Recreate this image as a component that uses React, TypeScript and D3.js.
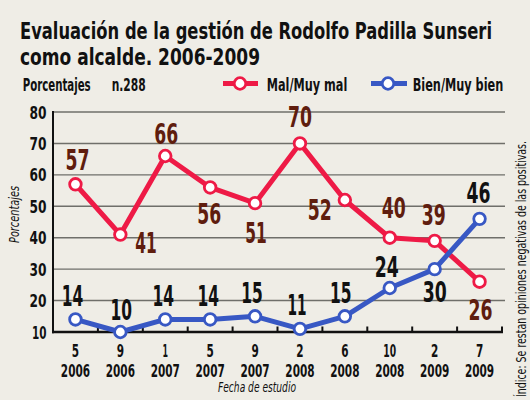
import React, { useEffect } from "react";
import * as d3 from "d3";

// ---- data ----
const months = ["5", "9", "1", "5", "9", "2", "6", "10", "2", "7"];
const years = ["2006", "2006", "2007", "2007", "2007", "2008", "2008", "2008", "2009", "2009"];
const malValues = [57, 41, 66, 56, 51, 70, 52, 40, 39, 26];
const bienValues = [14, 10, 14, 14, 15, 11, 15, 24, 30, 46];
const yTicks = [10, 20, 30, 40, 50, 60, 70, 80];

const titleLines = [
  "Evaluación de la gestión de Rodolfo Padilla Sunseri",
  "como alcalde. 2006-2009",
];
const seriesNames = ["Mal/Muy mal", "Bien/Muy bien"];

// ---- label layout (offsets from each point, anchor) ----
const malLabelLayout: [number, number, string][] = [
  [2, -14, "middle"], [15, 18, "start"], [1, -12, "middle"], [-1, 37, "middle"], [1, 40, "middle"],
  [0, -16, "middle"], [-13, 20, "end"], [4, -20, "middle"], [-1, -16, "middle"], [1, 38, "middle"],
];
const bienLabelLayout: [number, number, string][] = [
  [-3, -13, "middle"], [1, -12, "middle"], [-2, -13, "middle"], [-2, -13, "middle"], [-3, -13, "middle"],
  [-3, -14, "middle"], [-4, -13, "middle"], [-3, -11, "middle"], [0, 33, "middle"], [-1, -16, "middle"],
];

const BG = "#efede6";
const RED = "#ee1a46";
const BLUE = "#3858c4";
const BROWN = "#5f1d0e";
const FONT = "'Liberation Sans Narrow', 'DejaVu Sans Condensed', 'Liberation Sans', Arial, sans-serif";

const numWidth = (s: string, one: number, other: number) =>
  s.split("").reduce((a, c) => a + (c === "1" ? one : other), 0);

function T(props: {
  x: number; y: number; text: string; len?: number; size: number; weight?: any;
  anchor?: string; fill?: string; italic?: boolean; rotate?: number;
}) {
  const { x, y, text, len, size, weight = "bold", anchor = "start", fill = "#111", italic, rotate } = props;
  return (
    <text
      x={rotate ? 0 : x}
      y={rotate ? 0 : y}
      transform={rotate ? `translate(${x},${y}) rotate(${rotate})` : undefined}
      textAnchor={anchor as any}
      fontFamily={FONT}
      fontSize={size}
      fontWeight={weight}
      fontStyle={italic ? "italic" : "normal"}
      fill={fill}
      textLength={len}
      lengthAdjust={len ? "spacingAndGlyphs" : undefined}
    >
      {text}
    </text>
  );
}

export default function App() {
  useEffect(() => {
    document.body.style.margin = "0";
    document.body.style.background = BG;
  }, []);

  const x = d3.scaleBand<number>().domain(d3.range(months.length)).range([53, 502]);
  const bw = x.bandwidth();
  const cx = (i: number) => (x(i) as number) + bw / 2;
  const y = d3.scaleLinear().domain([10, 80]).range([332, 112]);
  const line = d3.line<number>().x((_, i) => cx(i)).y((d) => y(d));

  const series = [
    { values: malValues, color: RED, labelColor: BROWN, layout: malLabelLayout },
    { values: bienValues, color: BLUE, labelColor: "#111", layout: bienLabelLayout },
  ];

  return (
    <svg width={530} height={400} style={{ position: "absolute", left: 0, top: 0, display: "block" }}>
      <rect width={530} height={400} fill={BG} />

      {/* title */}
      <T x={20} y={38.5} text={titleLines[0]} len={472} size={23} />
      <T x={20} y={65} text={titleLines[1]} len={240} size={23} />

      {/* subtitle + legend */}
      <T x={22.7} y={90.7} text="Porcentajes" len={68} size={17} />
      <T x={111.7} y={90.7} text="n.288" len={34} size={17} />

      <line x1={223} x2={258} y1={83.5} y2={83.5} stroke={RED} strokeWidth={5} />
      <circle cx={240} cy={83.5} r={5.8} fill="#fff" stroke={RED} strokeWidth={2.8} />
      <T x={266.7} y={90.7} text={seriesNames[0]} len={80.6} size={17} />

      <line x1={371} x2={407} y1={83.5} y2={83.5} stroke={BLUE} strokeWidth={5} />
      <circle cx={388} cy={83.5} r={5.8} fill="#fff" stroke={BLUE} strokeWidth={2.8} />
      <T x={412.7} y={90.7} text={seriesNames[1]} len={90.6} size={17} />

      {/* gridlines */}
      {yTicks.filter((t) => t > 10).map((t) => (
        <line key={t} x1={53} x2={505} y1={y(t)} y2={y(t)} stroke="#6f6f6a" strokeWidth={1.4} />
      ))}

      {/* y tick labels */}
      {yTicks.map((t) => (
        <T key={t} x={46.5} y={y(t) + 6.5} text={String(t)} len={numWidth(String(t), 6, 8.5)} size={18} anchor="end" />
      ))}

      {/* axes */}
      <line x1={53} x2={53} y1={y(80) - 1} y2={y(10) + 1.2} stroke="#111" strokeWidth={2} />
      <line x1={52} x2={503} y1={y(10)} y2={y(10)} stroke="#111" strokeWidth={2.6} />
      {months.map((_, i) => (
        <line key={i} x1={(x(i) as number) + bw} x2={(x(i) as number) + bw} y1={y(10)} y2={y(10) - 5.5}
          stroke="#111" strokeWidth={2} />
      ))}

      {/* x labels */}
      {months.map((m, i) => (
        <g key={i}>
          <T x={cx(i)} y={356.5} text={m} len={numWidth(m, 5.5, 7.3)} size={18} anchor="middle" />
          <T x={cx(i)} y={377} text={years[i]} len={numWidth(years[i], 5.5, 7.3)} size={18} anchor="middle" />
        </g>
      ))}
      <T x={257} y={391.7} text="Fecha de estudio" len={78} size={14} weight="normal" italic anchor="middle" />

      {/* y axis title */}
      <T x={19} y={214.5} text="Porcentajes" len={57} size={13.5} weight="normal" italic anchor="middle" rotate={-90} />

      {/* right note */}
      <T x={526} y={269} text="Índice: Se restan opiniones negativas de las positivas." len={256} size={13.5}
        weight="normal" anchor="middle" rotate={-90} />

      {/* lines and points */}
      {series.map((s, si) => (
        <g key={si}>
          <path d={line(s.values) || ""} fill="none" stroke={s.color} strokeWidth={5} strokeLinejoin="round" />
          {s.values.map((v, i) => (
            <circle key={i} cx={cx(i)} cy={y(v)} r={5.8} fill="#fff" stroke={s.color} strokeWidth={2.8} />
          ))}
        </g>
      ))}

      {/* value labels */}
      {series.map((s, si) => (
        <g key={"l" + si}>
          {s.values.map((v, i) => {
            const [dx, dy, anchor] = s.layout[i];
            const str = String(v);
            return (
              <T key={i} x={cx(i) + dx} y={y(v) + dy} text={str} len={numWidth(str, 9.5, 12)} size={29}
                anchor={anchor} fill={s.labelColor} />
            );
          })}
        </g>
      ))}
    </svg>
  );
}
